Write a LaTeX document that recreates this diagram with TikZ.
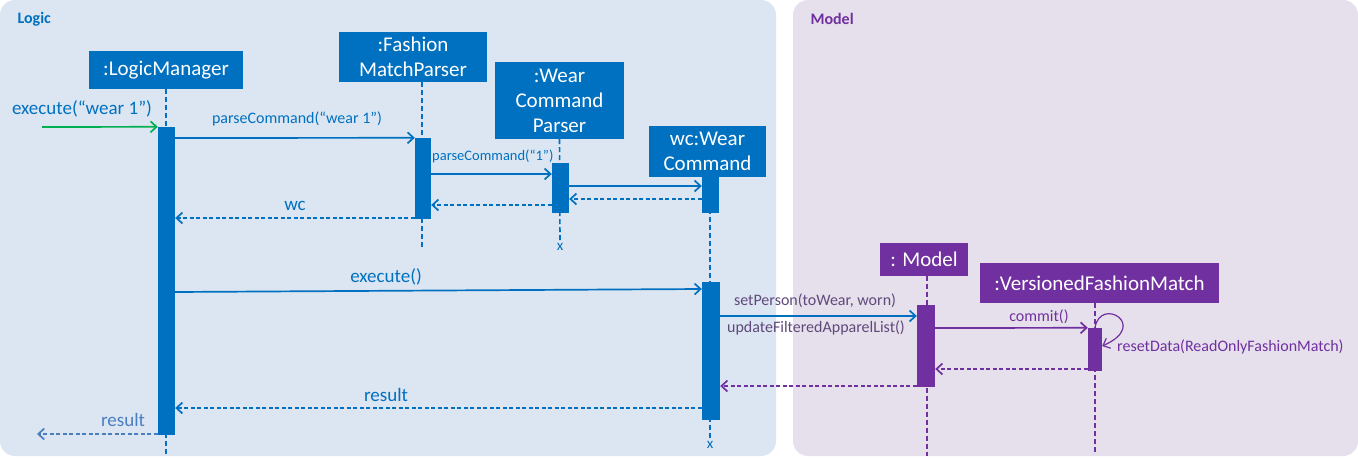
\documentclass[tikz,border=0pt]{standalone}
\usepackage{fontspec}
\setmainfont{Carlito}
\usetikzlibrary{arrows.meta,positioning}
\definecolor{lblue}{HTML}{0070C0}
\definecolor{lpurple}{HTML}{7030A0}
\definecolor{lgreen}{HTML}{00B050}
\definecolor{logicbg}{HTML}{DCE6F2}
\definecolor{modelbg}{HTML}{E6E0EC}
\definecolor{lgray}{HTML}{5F497A}
\definecolor{lsoft}{HTML}{4A7EC0}

\begin{document}
\begin{tikzpicture}[x=1pt,y=-1pt]

\tikzstyle{head}=[fill=lblue, text=white, inner sep=0pt, align=center, font=\fontsize{21}{25}\selectfont]
\tikzstyle{mhead}=[head, fill=lpurple]
\tikzstyle{act}=[fill=lblue, inner sep=0pt]
\tikzstyle{mact}=[act, fill=lpurple]
\tikzstyle{life}=[lblue, line width=1.6pt, dash pattern=on 5pt off 3pt]
\tikzstyle{mlife}=[life, lpurple]
\tikzstyle{msg}=[lblue, line width=1.7pt, -{Straight Barb[length=6pt,width=11pt]}]
\tikzstyle{ret}=[msg, dash pattern=on 4pt off 2.5pt]
\tikzstyle{mmsg}=[msg, lpurple]
\tikzstyle{mret}=[ret, lpurple]
\tikzstyle{lbl}=[lblue, inner sep=0pt, font=\fontsize{16}{18}\selectfont]
\tikzstyle{big}=[font=\fontsize{19}{21}\selectfont]

\useasboundingbox (0,0) rectangle (1358,466);
% panels
\fill[logicbg, rounded corners=15] (0,0) rectangle (776,456);
\fill[modelbg, rounded corners=15] (793,0) rectangle (1358,456);
\node[anchor=west, lblue, font=\fontsize{16}{18}\selectfont\bfseries] (logic) at (14,19) {Logic};
\node[anchor=west, lpurple, font=\fontsize{16}{18}\selectfont\bfseries] (model) at (807,19) {Model};

% heads
\node[head, minimum width=154, minimum height=38] (lm) at (166,70) {:LogicManager};
\node[head, minimum width=148, minimum height=50] (fp) at (413,57) {:Fashion\\MatchParser};
\node[head, minimum width=129, minimum height=77] (wp) at (559.5,100.5) {:Wear\\Command\\Parser};
\node[head, minimum width=117, minimum height=51] (wc) at (707.5,151.5) {wc:Wear\\Command};
\node[mhead, minimum width=88, minimum height=33] (md) at (924,259.5) {: Model};
\node[mhead, minimum width=239, minimum height=40] (vf) at (1099.5,283) {:VersionedFashionMatch};

% lifelines
\coordinate (lmEnd) at (166,456);
\coordinate (fpEnd) at (422,247);
\coordinate (wpEnd) at (560,241);
\coordinate (wcEnd) at (710,439);
\coordinate (mdEnd) at (927,456);
\coordinate (vfEnd) at (1095,452);
\draw[life] (lm.south) -- (lmEnd);
\draw[life] (fp.south -| fpEnd) -- (fpEnd);
\draw[life] (wp.south) -- (wpEnd);
\draw[life] (wc.south -| wcEnd) -- (wcEnd);
\draw[mlife] (md.south -| mdEnd) -- (mdEnd);
\draw[mlife] (vf.south -| vfEnd) -- (vfEnd);
\node[lblue, font=\fontsize{15}{15}\selectfont, inner sep=0pt] (wpX) at (560,247) {x};
\node[lblue, font=\fontsize{15}{15}\selectfont, inner sep=0pt] (wcX) at (710,445) {x};

% activations
\node[act, minimum width=17, minimum height=308] (lmA) at (166.5,281) {};
\node[act, minimum width=16, minimum height=81] (fpA) at (423,178.5) {};
\node[act, minimum width=17, minimum height=50] (wpA) at (560.5,188) {};
\node[act, minimum width=17, minimum height=36] (wcA) at (710.5,195) {};
\node[act, minimum width=18, minimum height=138] (wcB) at (711,351) {};
\node[mact, minimum width=18, minimum height=82] (mdA) at (926,346) {};
\node[mact, minimum width=14, minimum height=43] (vfA) at (1095,349.5) {};

% messages
\coordinate (start) at (42,127);
\draw[msg, lgreen] (start) -- (lmA.north west);
\node[lbl, big] (l1) at (82,109) {execute(“wear 1”)};
\draw[msg] (lmA.east |- 0,138) -- (fpA.north west);
\node[lbl] (l2) at (297,119) {parseCommand(“wear 1”)};
\draw[msg] (fpA.east |- 0,174) -- (wpA.west |- 0,174);
\node[lbl, anchor=west, font=\fontsize{14.5}{16}\selectfont] (l3) at (432,156) {parseCommand(“1”)};
\draw[msg] (wpA.east |- 0,186) -- (wcA.west |- 0,186);
\draw[ret] (wcA.west |- 0,199) -- (wpA.east |- 0,199);
\draw[ret] (wpA.west |- 0,205) -- (fpA.east |- 0,205);
\draw[ret] (fpA.west |- 0,218) -- (lmA.east |- 0,218);
\node[lbl, big] (l4) at (295,206) {wc};
\draw[msg] (lmA.east |- 0,292) -- (wcB.west |- 0,289);
\node[lbl, big] (l5) at (386,277) {execute()};
\draw[msg] (wcB.east |- 0,316) -- (mdA.west |- 0,316);
\node[lbl, lgray] (l6) at (815,301) {setPerson(toWear, worn)};
\node[lbl, lgray] (l7) at (816,328) {updateFilteredApparelList()};
\draw[mmsg] (mdA.east |- 0,328) -- (vfA.north west);
\node[lbl, lpurple] (l8) at (1039,317) {commit()};
\draw[mmsg, line width=1.2pt] (vfA.north) .. controls (1100,296) and (1150,325) .. (vfA.east |- 0,346);
\node[lbl, lpurple, anchor=west] (l9) at (1117,347) {resetData(ReadOnlyFashionMatch)};
\draw[mret] (vfA.west |- 0,369) -- (mdA.east |- 0,369);
\draw[mret] (mdA.west |- 0,386) -- (wcB.east |- 0,386);
\draw[ret] (wcB.west |- 0,408) -- (lmA.east |- 0,408);
\node[lbl, big] (l10) at (386,395) {result};
\coordinate (finish) at (37,434);
\draw[ret, lsoft] (lmA.west |- 0,434) -- (finish);
\node[lbl, lsoft, big] (l11) at (123,420) {result};

\end{tikzpicture}
\end{document}
